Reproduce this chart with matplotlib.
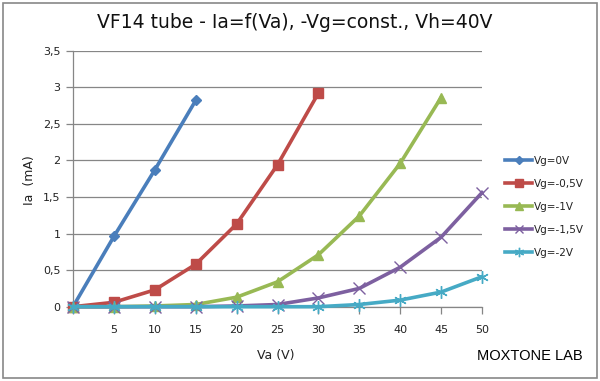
import matplotlib
matplotlib.use("Agg")
import matplotlib.pyplot as plt
from matplotlib.ticker import FuncFormatter
from matplotlib.patches import Rectangle

va = [0, 5, 10, 15, 20, 25, 30, 35, 40, 45, 50]
ia_vg0 = [0, 0.96, 1.87, 2.82]
ia_vg05 = [0, 0.06, 0.23, 0.58, 1.13, 1.94, 2.92]
ia_vg1 = [0, 0, 0.01, 0.03, 0.13, 0.34, 0.71, 1.24, 1.96, 2.86]
ia_vg15 = [0, 0, 0, 0, 0.01, 0.03, 0.12, 0.25, 0.54, 0.95, 1.56]
ia_vg2 = [0, 0, 0, 0, 0, 0, 0, 0.03, 0.09, 0.20, 0.41]
labels = ["Vg=0V", "Vg=-0,5V", "Vg=-1V", "Vg=-1,5V", "Vg=-2V"]
x_ticklabels = ["", "5", "10", "15", "20", "25", "30", "35", "40", "45", "50"]

series = [ia_vg0, ia_vg05, ia_vg1, ia_vg15, ia_vg2]
colors = ["#4A7EBB", "#BE4B48", "#98B954", "#7D60A0", "#46AAC5"]
markers = ["D", "s", "^", "x", (6, 2, 0)]
msizes = [5, 7, 7, 8, 9]

fig = plt.figure(figsize=(6.0, 3.81), dpi=100)
fig.patches.append(Rectangle((3/600, 3/381), 594/600, 375/381, transform=fig.transFigure,
                             fill=False, edgecolor="#888888", linewidth=1.2))

ax = fig.add_axes([73/600, (381-306.7)/381, (482-73)/600, (306.7-50.7)/381])
for ys, c, m, ms, lab in zip(series, colors, markers, msizes, labels):
    mk = dict(marker=m, markersize=ms, color=c, markerfacecolor=c, markeredgecolor=c)
    if m == "x" or isinstance(m, tuple):
        mk["markeredgewidth"] = 1.0
    ax.plot(va[:len(ys)], ys, linewidth=2.6, label=lab, clip_on=False, zorder=3, **mk)

ax.set_xlim(0, 50)
ax.set_ylim(0, 3.5)
ax.set_xticks(va)
ax.set_xticklabels(x_ticklabels)
ax.set_yticks([0, 0.5, 1, 1.5, 2, 2.5, 3, 3.5])
ax.yaxis.set_major_formatter(FuncFormatter(lambda v, p: ("%g" % v).replace(".", ",")))
ax.grid(axis="y", color="#868686", linewidth=0.9)
ax.set_axisbelow(True)
for s in ("top", "right"):
    ax.spines[s].set_visible(False)
for s in ("left", "bottom"):
    ax.spines[s].set_color("#868686")
    ax.spines[s].set_linewidth(0.9)
ax.tick_params(axis="both", direction="out", length=5, width=0.9, color="#868686",
               labelsize=8, labelcolor="#222222", pad=4)
ax.tick_params(axis="x", pad=8)

fig.text(295/600, 1 - 23/381, "VF14 tube - Ia=f(Va), -Vg=const., Vh=40V", ha="center", va="center",
         fontsize=13.5, color="#111111")
fig.text(30/600, 1 - 180/381, "Ia  (mA)", rotation=90, ha="center", va="center", fontsize=9, color="#222222")
fig.text(276/600, 1 - 355/381, "Va (V)", ha="center", va="center", fontsize=9, color="#222222")
fig.text(583/600, 1 - 356/381, "MOXTONE LAB", ha="right", va="center", fontsize=10.5,
         family="Liberation Sans", color="#000000")

leg = ax.legend(loc="upper left", bbox_to_anchor=(505/600, 1 - 156/381), bbox_transform=fig.transFigure,
                frameon=False, fontsize=7.5, handlelength=2.6, labelspacing=1.25, handletextpad=0.2,
                borderaxespad=0, borderpad=0, markerscale=0.75)
for t in leg.get_texts():
    t.set_color("#222222")

fig.savefig("out.png", dpi=100)
